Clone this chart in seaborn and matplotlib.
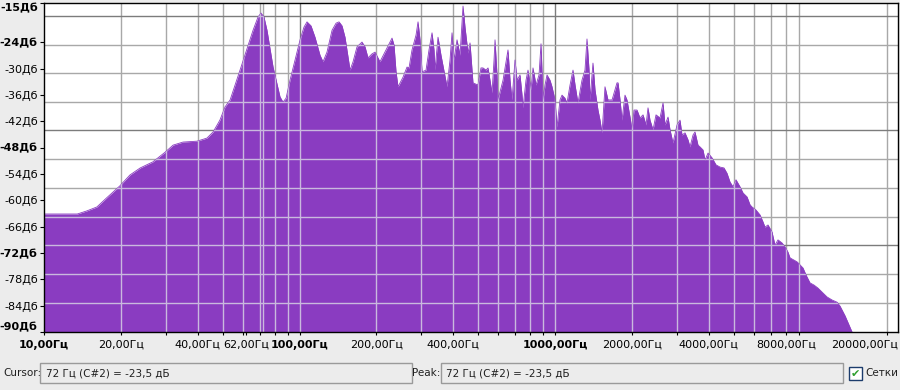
import numpy as np
import pandas as pd
import seaborn as sns
import matplotlib.pyplot as plt
from matplotlib.patches import Rectangle
from matplotlib.ticker import FixedLocator, NullFormatter

# Spectrum (frequency in Hz, level in dB)
freq_hz = [
    10.0, 11.6, 13.5, 14.7, 16.1, 17.6, 19.8, 21.7, 23.8, 26.7,
    29.8, 32.0, 35.0, 39.7, 43.4, 45.9, 48.8, 51.1, 53.5, 58.5,
    65.8, 68.8, 70.7, 72.6, 74.6, 78.8, 83.9, 86.2, 88.6, 91.8,
    100.5, 104.1, 107.0, 110.9, 115.0, 120.3, 123.6, 128.1, 134.1, 139.0,
    142.8, 146.7, 150.7, 157.7, 162.0, 167.9, 175.6, 180.5, 185.4, 192.2,
    197.5, 206.5, 218.1, 230.2, 234.4, 238.7, 243.0, 254.2, 263.5, 268.3,
    275.6, 285.8, 291.0, 296.3, 301.7, 312.7, 321.2, 330.1, 336.1, 339.1,
    348.4, 357.9, 377.9, 388.2, 395.3, 402.5, 413.5, 424.9, 436.5, 444.4,
    456.6, 464.9, 477.5, 499.4, 513.2, 522.6, 537.0, 546.8, 556.7, 566.8,
    577.2, 582.4, 592.9, 598.3, 625.9, 654.6, 666.8, 678.8, 697.4, 710.2,
    729.6, 742.9, 749.6, 770.0, 784.0, 805.5, 820.1, 842.6, 865.8, 881.5,
    897.5, 913.9, 930.5, 955.9, 973.4, 1000, 1018, 1046, 1065, 1094,
    1114, 1145, 1176, 1198, 1230, 1275, 1310, 1334, 1359, 1371,
    1408, 1434, 1473, 1500, 1528, 1569, 1612, 1642, 1672, 1717,
    1748, 1765, 1797, 1829, 1879, 1913, 1966, 2001, 2038, 2094,
    2151, 2211, 2271, 2312, 2354, 2419, 2485, 2576, 2647, 2695,
    2769, 2819, 2896, 3003, 3085, 3141, 3227, 3316, 3376, 3468,
    3531, 3628, 3694, 3796, 3865, 3971, 4117, 4267, 4424, 4585,
    4711, 4841, 4974, 5110, 5298, 5443, 5644, 5798, 5904, 6120,
    6343, 6517, 6636, 6818, 7068, 7261, 7460, 7735, 7946, 8164,
    8313, 8620, 8856, 9098, 9346, 9603, 9954, 10320, 10700, 11090,
    11600, 12140, 12700, 13050, 13290, 13650, 14030, 14540,
]
level_db = [
    -63.1, -63.1, -63.1, -62.4, -61.5, -59.4, -56.7, -54.2, -52.6, -51.2,
    -49.0, -47.4, -46.7, -46.5, -45.8, -44.4, -41.7, -38.7, -37.1, -30.3,
    -21.2, -18.2, -17.3, -18.2, -21.2, -29.6, -36.4, -37.6, -36.7, -32.6,
    -23.4, -20.5, -19.3, -20.2, -22.8, -26.9, -28.4, -26.2, -21.2, -19.6,
    -19.3, -20.2, -22.8, -30.3, -28.4, -25.0, -23.9, -25.0, -27.5, -26.6,
    -26.2, -28.4, -25.7, -23.0, -24.6, -30.7, -34.1, -31.9, -29.6, -29.8,
    -25.7, -22.3, -19.3, -23.4, -30.7, -30.3, -25.7, -21.8, -25.7, -30.3,
    -22.8, -26.9, -34.1, -28.0, -21.8, -28.0, -23.4, -26.9, -15.7, -20.5,
    -26.4, -24.1, -33.2, -33.7, -29.8, -29.8, -30.3, -29.8, -32.6, -35.5,
    -28.0, -23.4, -31.4, -37.1, -32.6, -25.7, -32.6, -37.1, -28.0, -32.6,
    -31.4, -36.0, -38.9, -32.6, -30.3, -34.8, -29.8, -33.7, -31.4, -24.3,
    -37.1, -33.7, -31.4, -32.6, -34.1, -37.1, -43.3, -37.1, -36.0, -36.7,
    -37.8, -33.7, -30.3, -33.7, -37.8, -32.6, -30.3, -23.2, -30.3, -37.1,
    -28.7, -34.8, -39.4, -41.7, -44.6, -34.1, -37.1, -37.1, -37.1, -34.8,
    -33.2, -33.2, -37.1, -41.7, -36.0, -37.1, -41.0, -43.9, -39.4, -39.4,
    -41.2, -40.5, -42.8, -38.9, -41.7, -43.9, -40.5, -41.2, -37.8, -42.8,
    -41.0, -43.9, -46.9, -42.8, -41.7, -45.1, -44.6, -46.2, -47.8, -45.1,
    -44.4, -47.4, -47.8, -48.5, -50.8, -49.2, -50.3, -51.9, -52.4, -52.6,
    -53.8, -55.8, -56.9, -55.3, -56.9, -58.3, -59.2, -61.0, -61.5, -62.2,
    -63.3, -64.9, -66.1, -65.6, -67.2, -70.2, -69.0, -69.7, -70.6, -71.8,
    -73.1, -73.6, -74.0, -74.7, -75.4, -77.0, -78.8, -79.3, -80.0, -80.9,
    -82.0, -82.7, -83.2, -84.1, -85.0, -86.3, -87.9, -90.0,
]

tick_freqs = [10, 20, 40, 62, 100, 200, 400, 1000, 2000, 4000, 8000, 20000]
tick_freq_labels = ['10,00Гц', '20,00Гц', '40,00Гц', '62,00Гц', '100,00Гц',
                    '200,00Гц', '400,00Гц', '1000,00Гц', '2000,00Гц',
                    '4000,00Гц', '8000,00Гц', '']
last_freq_label = '20000,00Гц'
bold_freqs = [10, 100, 1000]
grid_freqs = [20, 30, 40, 50, 60, 70, 80, 90,
              100, 200, 300, 400, 500, 600, 700, 800, 900,
              1000, 2000, 3000, 4000, 5000, 6000, 7000, 8000, 9000, 20000]
dark_freqs = [100, 1000]

db_ticks = [-15, -24, -30, -36, -42, -48, -54, -60, -66, -72, -78, -84, -90]
bold_db = [-15, -24, -48, -72, -90]
# Audacity's horizontal grid does not sit on its own labels
grid_db = [-83.38, -76.77, -70.16, -63.78, -57.17, -50.56, -43.95, -37.57,
           -30.96, -24.57, -17.96]
dark_db = [-70.16, -43.95, -17.96]

cursor_hz = 72
cursor_text = '72 Гц (C#2) = -23,5 дБ'
peak_text = '72 Гц (C#2) = -23,5 дБ'

purple = '#8a3cc1'
grid_col = '#a8a8a8'
grid_dark = '#7c7c7c'
grid_over = '#c9b9de'
panel = '#ececec'

sns.set_theme(style='white')
plt.rcParams['font.family'] = ['DejaVu Sans']

df = pd.DataFrame({'freq': freq_hz, 'db': level_db})

W, H = 900, 390
fig = plt.figure(figsize=(9, 3.9), dpi=100, facecolor=panel)
ax = fig.add_axes([44 / W, 58 / H, (898 - 44) / W, (332 - 3) / H])
ax.set_facecolor('white')
ax.set_xscale('log')
ax.set_xlim(10, 22000)
ax.set_ylim(-90, -15)

# grid under the spectrum
for f in grid_freqs + [cursor_hz]:
    ax.axvline(f, color=grid_dark if f in dark_freqs else grid_col, lw=1, zorder=0.5)
for d in grid_db:
    ax.axhline(d, color=grid_dark if d in dark_db else grid_col, lw=1, zorder=0.5)

poly = ax.fill_between(df['freq'], df['db'], -100, color=purple, lw=0, zorder=1)
sns.lineplot(data=df, x='freq', y='db', color=purple, lw=0.6, estimator=None,
             sort=False, ax=ax, zorder=1.2)

# grid on top of the spectrum, lighter, clipped to the filled area
clip = poly.get_paths()[0]
over = [ax.axvline(f, color=grid_over, lw=1, zorder=2) for f in grid_freqs + [cursor_hz]]
over += [ax.axhline(d, color=grid_over, lw=1, zorder=2) for d in grid_db]
for ln in over:
    ln.set_clip_path(clip, ax.transData)

ax.set_xlabel('')
ax.set_ylabel('')
for sp in ax.spines.values():
    sp.set_visible(True)
    sp.set_color('black')
    sp.set_linewidth(1)

ax.xaxis.set_major_locator(FixedLocator(tick_freqs))
ax.xaxis.set_minor_locator(FixedLocator(grid_freqs))
ax.xaxis.set_minor_formatter(NullFormatter())
ax.set_xticklabels(tick_freq_labels)
ax.tick_params(axis='x', which='both', bottom=True, direction='out',
               length=2.5, width=0.8, color='black', pad=3, labelsize=8,
               labelcolor='black')
for lab, f in zip(ax.get_xticklabels(), tick_freqs):
    if f in bold_freqs:
        lab.set_fontweight('bold')
ax.annotate(last_freq_label, xy=(1, 0), xycoords='axes fraction',
            xytext=(0, -5.5), textcoords='offset points', ha='right', va='top',
            fontsize=8, color='black')

ax.yaxis.set_major_locator(FixedLocator(db_ticks))
ax.yaxis.set_minor_locator(FixedLocator(grid_db))
ax.set_yticklabels([f'{d}Дб' for d in db_ticks])
ax.tick_params(axis='y', which='major', left=True, direction='out',
               length=3, width=0.8, color='black', pad=1.5, labelsize=8,
               labelcolor='black')
ax.tick_params(axis='y', which='minor', left=False, length=0)
for lab, d in zip(ax.get_yticklabels(), db_ticks):
    if d in bold_db:
        lab.set_fontweight('bold')
    if d == -15:
        lab.set_va('top')
    if d == -90:
        lab.set_va('bottom')


def px_box(x0, y0, x1, y1, **kw):
    fig.patches.append(Rectangle((x0 / W, 1 - y1 / H), (x1 - x0) / W, (y1 - y0) / H,
                                 transform=fig.transFigure, **kw))


def px_text(x, y, s, **kw):
    fig.text(x / W, 1 - y / H, s, va='center', fontsize=7.5, color='#202020', **kw)


# status bar
px_text(3, 373, 'Cursor:')
px_box(40, 363, 412, 383, facecolor=panel, edgecolor='#9a9a9a', lw=1)
px_text(46, 373, cursor_text)
px_text(412, 373, 'Peak:')
px_box(441, 363, 843, 383, facecolor=panel, edgecolor='#9a9a9a', lw=1)
px_text(446, 373, peak_text)
px_box(849, 367, 862, 380, facecolor='white', edgecolor='#1c3c6c', lw=1)
fig.text(855.5 / W, 1 - 373.5 / H, '✔', ha='center', va='center',
         fontsize=8, color='#2e9e2e')
px_text(865, 373, 'Сетки')

fig.savefig('out.png', dpi=100, facecolor=panel)
